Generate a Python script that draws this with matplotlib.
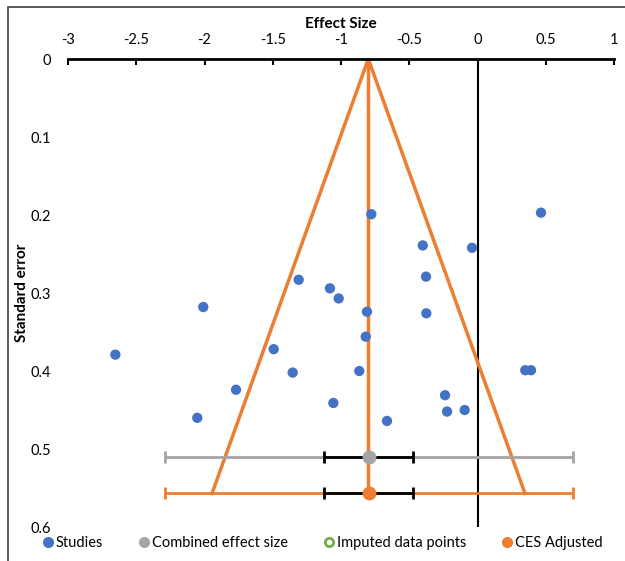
import matplotlib
matplotlib.use("Agg")
import matplotlib.pyplot as plt
from matplotlib.lines import Line2D
from matplotlib.patches import Rectangle

# -----------------------------
# Data
# -----------------------------
study_es = [-0.778, 0.465, -0.401, -0.040, -0.377, -0.375, -0.810, -0.819, -0.866,
            -1.310, -1.081, -1.017, -2.009, -2.653, -1.493, -1.354, -1.769, -2.053,
            -1.056, -0.663, -0.238, -0.223, -0.094, 0.350, 0.392]
study_se = [0.199, 0.197, 0.239, 0.242, 0.279, 0.326, 0.324, 0.356, 0.400,
            0.283, 0.294, 0.307, 0.318, 0.379, 0.372, 0.402, 0.424, 0.460,
            0.441, 0.464, 0.431, 0.452, 0.450, 0.399, 0.399]

ces = -0.797          # combined effect size
ces_y = 0.510
ces_adj = -0.797      # CES adjusted
ces_adj_y = 0.557
pi_half = 1.495       # prediction interval half width
ci_half = 0.325       # confidence interval half width

funnel_x = [-1.945, -0.80, 0.348]
funnel_y = [0.557, 0.0, 0.557]

xticks = [-3, -2.5, -2, -1.5, -1, -0.5, 0, 0.5, 1]
yticks = [0, 0.1, 0.2, 0.3, 0.4, 0.5, 0.6]

blue = "#4472C4"
gray = "#A5A5A5"
orange = "#ED7D31"
green = "#70AD47"

plt.rcParams["font.family"] = ["Lato", "DejaVu Sans"]

fig = plt.figure(figsize=(6.25, 5.61), dpi=100)
ax = fig.add_axes([0.1088, 0.0606, 0.8736, 0.8342])

# funnel
ax.plot(funnel_x, funnel_y, color=orange, lw=2.5, zorder=2)
ax.plot([funnel_x[1], funnel_x[1]], [0, ces_adj_y], color=orange, lw=2.5, zorder=2)

# zero line
ax.axvline(0, color="black", lw=1.5, zorder=1)

# combined effect size bars
ax.errorbar(ces, ces_y, xerr=pi_half, fmt="none", ecolor=gray, elinewidth=2,
            capsize=4, capthick=2, zorder=3)
ax.errorbar(ces, ces_y, xerr=ci_half, fmt="none", ecolor="black", elinewidth=2,
            capsize=4, capthick=2, zorder=4)
ax.errorbar(ces_adj, ces_adj_y, xerr=pi_half, fmt="none", ecolor=orange, elinewidth=2,
            capsize=4, capthick=2, zorder=3)
ax.errorbar(ces_adj, ces_adj_y, xerr=ci_half, fmt="none", ecolor="black", elinewidth=2,
            capsize=4, capthick=2, zorder=4)
ax.plot([ces], [ces_y], "o", color=gray, ms=9, zorder=5)
ax.plot([ces_adj], [ces_adj_y], "o", color=orange, ms=9, zorder=5)

# studies
ax.scatter(study_es, study_se, s=55, color=blue, edgecolors="none", zorder=6)

# axes
ax.set_xlim(-3, 1)
ax.set_ylim(0.6, 0)
ax.xaxis.tick_top()
ax.xaxis.set_label_position("top")
ax.set_xticks(xticks)
ax.set_xticklabels([f"{t:g}" for t in xticks])
ax.set_yticks(yticks)
ax.set_yticklabels([f"{t:g}" for t in yticks])
ax.tick_params(axis="x", direction="in", length=4, width=1.5, pad=9, labelsize=10.5)
ax.tick_params(axis="y", length=0, pad=12, labelsize=10.5)
for s in ["left", "right", "bottom"]:
    ax.spines[s].set_visible(False)
ax.spines["top"].set_linewidth(2)
ax.set_xlabel("Effect Size", fontweight="bold", fontsize=11, labelpad=3)
ax.set_ylabel("Standard error", fontweight="bold", fontsize=11, labelpad=1)

# legend
handles = [
    Line2D([], [], marker="o", ls="none", color=blue, ms=7),
    Line2D([], [], marker="o", ls="none", color=gray, ms=7),
    Line2D([], [], marker="o", ls="none", mfc="white", mec=green, mew=2, ms=6),
    Line2D([], [], marker="o", ls="none", color=orange, ms=7),
]
labels = ["Studies", "Combined effect size", "Imputed data points", "CES Adjusted"]
fig.legend(handles, labels, loc="center", bbox_to_anchor=(0.515, 0.032), ncol=4,
           frameon=False, fontsize=10.5, handletextpad=0.05, columnspacing=2.3,
           handlelength=1.0, borderaxespad=0)

# chart border
fig.add_artist(Rectangle((0.0128, -0.2), 1.5, 0.9875 + 0.2, transform=fig.transFigure,
                         fill=False, edgecolor="#404040", lw=1.2))

fig.savefig("out.png", dpi=100)
